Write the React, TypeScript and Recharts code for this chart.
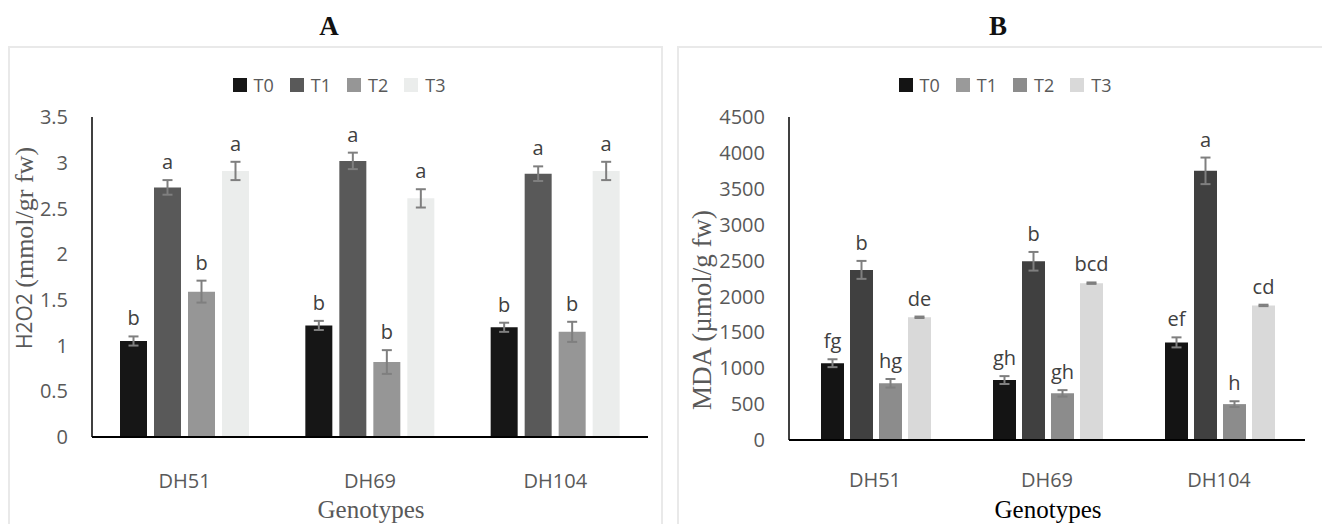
import React from 'react';
import { BarChart, Bar, XAxis, YAxis, ErrorBar, Legend, LabelList, Label } from 'recharts';

const genotypes = ['DH51', 'DH69', 'DH104'];
const treatments = ['T0', 'T1', 'T2', 'T3'];

// A - H2O2 (mmol/gr fw)
const h2o2T0 = [1.05, 1.22, 1.2];
const h2o2T1 = [2.73, 3.02, 2.88];
const h2o2T2 = [1.59, 0.82, 1.15];
const h2o2T3 = [2.91, 2.61, 2.91];
const h2o2T0Err = [0.05, 0.05, 0.05];
const h2o2T1Err = [0.08, 0.09, 0.08];
const h2o2T2Err = [0.12, 0.13, 0.11];
const h2o2T3Err = [0.1, 0.1, 0.1];
const h2o2T0Sig = ['b', 'b', 'b'];
const h2o2T1Sig = ['a', 'a', 'a'];
const h2o2T2Sig = ['b', 'b', 'b'];
const h2o2T3Sig = ['a', 'a', 'a'];
const h2o2Ticks = [0, 0.5, 1, 1.5, 2, 2.5, 3, 3.5];

// B - MDA (µmol/g fw)
const mdaT0 = [1070, 835, 1360];
const mdaT1 = [2370, 2490, 3750];
const mdaT2 = [790, 650, 500];
const mdaT3 = [1710, 2185, 1875];
const mdaT0Err = [55, 55, 70];
const mdaT1Err = [125, 130, 185];
const mdaT2Err = [60, 45, 40];
const mdaT3Err = [10, 10, 10];
const mdaT0Sig = ['fg', 'gh', 'ef'];
const mdaT1Sig = ['b', 'b', 'a'];
const mdaT2Sig = ['hg', 'gh', 'h'];
const mdaT3Sig = ['de', 'bcd', 'cd'];
const mdaTicks = [0, 500, 1000, 1500, 2000, 2500, 3000, 3500, 4000, 4500];

const SANS = '"Open Sans", sans-serif';
const SERIF = '"Liberation Serif", "Times New Roman", serif';
const GREY = '#595959';

const buildRows = (vals: number[][], errs: number[][], sigs: string[][]) =>
  genotypes.map((g, i) => {
    const row: any = { name: g };
    treatments.forEach((t, k) => {
      row[t] = vals[k][i];
      row[t + 'Err'] = errs[k][i];
      row[t + 'Sig'] = sigs[k][i];
    });
    return row;
  });

const rowsA = buildRows(
  [h2o2T0, h2o2T1, h2o2T2, h2o2T3],
  [h2o2T0Err, h2o2T1Err, h2o2T2Err, h2o2T3Err],
  [h2o2T0Sig, h2o2T1Sig, h2o2T2Sig, h2o2T3Sig]
);
const rowsB = buildRows(
  [mdaT0, mdaT1, mdaT2, mdaT3],
  [mdaT0Err, mdaT1Err, mdaT2Err, mdaT3Err],
  [mdaT0Sig, mdaT1Sig, mdaT2Sig, mdaT3Sig]
);

type PanelProps = {
  rows: any[];
  ticks: number[];
  barColors: string[];
  legendColors: string[];
  margin: { top: number; right: number; left: number; bottom: number };
  barCategoryGap: number;
  barGap: number;
  tickMarginX: number;
  legendLeft: number;
  yLabel: React.ReactNode;
  yLabelPos: { x: number; y: number };
  xLabelColor: string;
};

const Panel = (p: PanelProps) => {
  const renderLegend = () => (
    <div
      style={{
        display: 'flex',
        justifyContent: 'center',
        alignItems: 'center',
        fontFamily: SANS,
        fontSize: 18,
        color: GREY,
        lineHeight: '24px',
      }}
    >
      {treatments.map((t, i) => (
        <span key={t} style={{ display: 'flex', alignItems: 'center', marginRight: i < 3 ? 16 : 0 }}>
          <span style={{ display: 'inline-block', width: 14, height: 14, background: p.legendColors[i], marginRight: 7 }} />
          {t}
        </span>
      ))}
    </div>
  );

  const sigContent = (t: string) => (props: any) => {
    const vb = props.viewBox || props;
    const idx = props.index;
    const row = p.rows[idx];
    if (!row || !vb) return null;
    const pxPerUnit = vb.height / row[t];
    const errTop = vb.y - row[t + 'Err'] * pxPerUnit;
    return (
      <text
        x={vb.x + vb.width / 2}
        y={errTop - 11}
        textAnchor="middle"
        fontFamily={SANS}
        fontSize={20}
        fill="#404040"
      >
        {props.value}
      </text>
    );
  };

  return (
    <BarChart
      width={660}
      height={524}
      data={p.rows}
      margin={p.margin}
      barCategoryGap={p.barCategoryGap}
      barGap={p.barGap}
    >
      <XAxis
        dataKey="name"
        height={40}
        axisLine={{ stroke: '#000', strokeWidth: 2 }}
        tickLine={false}
        tickSize={0}
        tickMargin={p.tickMarginX}
        tick={{ fontFamily: SANS, fontSize: 20, fill: GREY }}
      >
        <Label
          content={(lp: any) => {
            const vb = lp.viewBox;
            return (
              <text
                x={vb.x + vb.width / 2 + 1}
                y={518}
                textAnchor="middle"
                fontFamily={SERIF}
                fontSize={25}
                fill={p.xLabelColor}
              >
                Genotypes
              </text>
            );
          }}
        />
      </XAxis>
      <YAxis
        width={60}
        domain={[p.ticks[0], p.ticks[p.ticks.length - 1]]}
        ticks={p.ticks}
        interval={0}
        axisLine={{ stroke: '#000', strokeWidth: 1.5 }}
        tickLine={false}
        tickSize={0}
        tickMargin={24}
        tick={{ fontFamily: SANS, fontSize: 20, fill: GREY }}
      >
        <Label
          content={() => (
            <text
              x={p.yLabelPos.x}
              y={p.yLabelPos.y}
              transform={`rotate(-90, ${p.yLabelPos.x}, ${p.yLabelPos.y})`}
              textAnchor="middle"
              dominantBaseline="central"
              fill={GREY}
            >
              {p.yLabel}
            </text>
          )}
        />
      </YAxis>
      <Legend
        layout="horizontal"
        verticalAlign="middle"
        align="center"
        content={renderLegend}
        wrapperStyle={{ top: 73, left: p.legendLeft, width: 660, height: 24 }}
      />
      {treatments.map((t, i) => (
        <Bar key={t} dataKey={t} fill={p.barColors[i]} isAnimationActive={false}>
          <ErrorBar dataKey={t + 'Err'} width={5} stroke="#7f7f7f" strokeWidth={2} isAnimationActive={false} />
          <LabelList dataKey={t + 'Sig'} content={sigContent(t)} />
        </Bar>
      ))}
    </BarChart>
  );
};

export default function App() {
  return (
    <div style={{ position: 'absolute', left: 0, top: 0, width: 1322, height: 524, background: '#fff', overflow: 'hidden' }}>
      <div style={{ position: 'absolute', left: 8, top: 46, width: 651, height: 500, border: '2px solid #e9e9e9' }} />
      <div style={{ position: 'absolute', left: 677, top: 46, width: 700, height: 500, border: '2px solid #e9e9e9' }} />
      <div
        style={{
          position: 'absolute', left: 229, top: 8, width: 200, textAlign: 'center',
          fontFamily: SERIF, fontWeight: 'bold', fontSize: 27, lineHeight: '36px', color: '#111',
        }}
      >
        A
      </div>
      <div
        style={{
          position: 'absolute', left: 898, top: 8, width: 200, textAlign: 'center',
          fontFamily: SERIF, fontWeight: 'bold', fontSize: 27, lineHeight: '36px', color: '#111',
        }}
      >
        B
      </div>
      <div style={{ position: 'absolute', left: 0, top: 0 }}>
        <Panel
          rows={rowsA}
          ticks={h2o2Ticks}
          barColors={['#161616', '#595959', '#969696', '#ebedec']}
          legendColors={['#161616', '#595959', '#969696', '#ebedec']}
          margin={{ top: 117, right: 12, left: 32, bottom: 47 }}
          barCategoryGap={28}
          barGap={7}
          tickMarginX={37}
          legendLeft={9}
          yLabel={
            <>
              <tspan fontFamily={SANS} fontSize={21}>H2O2 </tspan>
              <tspan fontFamily={SERIF} fontSize={26}>(mmol/gr fw)</tspan>
            </>
          }
          yLabelPos={{ x: 24, y: 248 }}
          xLabelColor={GREY}
        />
      </div>
      <div style={{ position: 'absolute', left: 662, top: 0 }}>
        <Panel
          rows={rowsB}
          ticks={mdaTicks}
          barColors={['#141414', '#404040', '#8c8c8c', '#d9d9d9']}
          legendColors={['#141414', '#9a9a9a', '#8c8c8c', '#d9d9d9']}
          margin={{ top: 117, right: 17, left: 67, bottom: 44 }}
          barCategoryGap={32}
          barGap={6}
          tickMarginX={33}
          legendLeft={13}
          yLabel={<tspan fontFamily={SERIF} fontSize={27}>MDA (µmol/g fw)</tspan>}
          yLabelPos={{ x: 40, y: 310 }}
          xLabelColor="#000"
        />
      </div>
    </div>
  );
}
